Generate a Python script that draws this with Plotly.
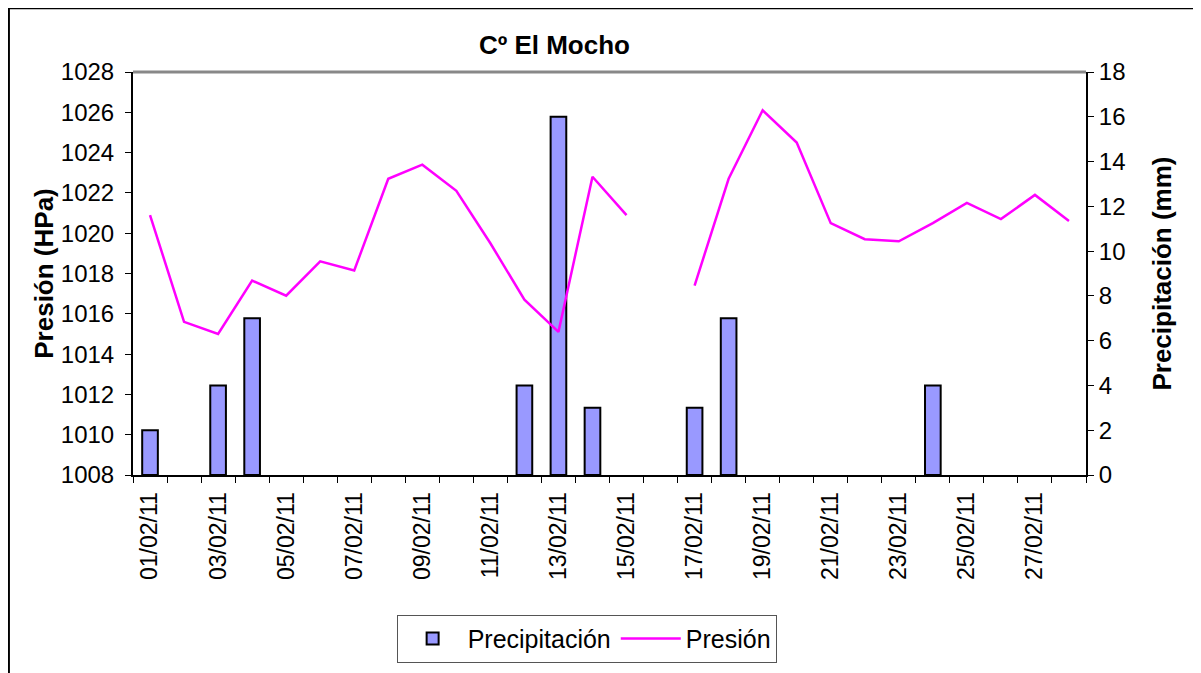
import plotly.graph_objects as go

fechas = [f"{d:02d}/02/11" for d in range(1, 29)]
precipitacion = [2, 0, 4, 7, 0, 0, 0, 0, 0, 0, 0, 4, 16, 3, 0, 0, 3, 7, 0, 0, 0, 0, 0, 4, 0, 0, 0, 0]
presion = [1020.9, 1015.6, 1015.0, 1017.65, 1016.9, 1018.6, 1018.15, 1022.7, 1023.4, 1022.1,
           1019.5, 1016.7, 1015.1, 1022.8, 1020.9, None, 1017.4, 1022.7, 1026.1, 1024.5,
           1020.5, 1019.7, 1019.6, 1020.5, 1021.5, 1020.7, 1021.9, 1020.6]
etiquetas = [f if i % 2 == 0 else "" for i, f in enumerate(fechas)]

font_fam = "Liberation Sans, Arial, sans-serif"

fig = go.Figure()

# bars on primary axis (drawn below), pressure on overlaying axis
fig.add_trace(go.Bar(
    x=fechas, y=[v if v > 0 else None for v in precipitacion], name="Precipitación",
    marker=dict(color="#9999FF", line=dict(color="black", width=2)),
    width=0.46, yaxis="y"
))
fig.add_trace(go.Scatter(
    x=fechas, y=presion, name="Presión", mode="lines",
    line=dict(color="#FF00FF", width=2.5), connectgaps=False, yaxis="y2"
))

fig.update_layout(
    width=1201, height=673,
    margin=dict(l=125, r=123, t=64, b=206),
    paper_bgcolor="white", plot_bgcolor="white",
    font=dict(family=font_fam, size=24, color="black"),
    title=dict(text="<b>Cº El Mocho</b>", x=0.455, xanchor="center", y=0.945, yanchor="middle",
               font=dict(size=26, family=font_fam)),
    xaxis=dict(
        type="category", categoryorder="array", categoryarray=fechas,
        tickmode="array", tickvals=fechas, ticktext=etiquetas,
        tickangle=-90, tickson="boundaries", ticks="outside", ticklen=6,
        tickcolor="black", showline=True, linecolor="black", linewidth=2,
        showgrid=False, tickfont=dict(size=23), range=[-0.5, 27.5], automargin=False,
        ticklabelstandoff=6
    ),
    yaxis=dict(
        side="right", range=[0, 18], dtick=2, ticks="outside", ticklen=6,
        tickcolor="black", showline=True, linecolor="black", linewidth=2,
        showgrid=False, zeroline=False, tickfont=dict(size=24), automargin=False,
        title=dict(text="<b>Precipitación (mm)</b>", font=dict(size=26), standoff=28)
    ),
    yaxis2=dict(
        overlaying="y", side="left", range=[1008, 1028], dtick=2, ticks="outside", ticklen=6,
        tickcolor="black", showline=True, linecolor="black", linewidth=2,
        showgrid=False, zeroline=False, tickfont=dict(size=24), automargin=False,
        ticklabelstandoff=6,
        title=dict(text="<b>Presión (HPa)</b>", font=dict(size=26), standoff=0)
    ),
    legend=dict(
        orientation="h", x=0.476, xanchor="center", y=-0.347, yanchor="top",
        bordercolor="#555555", borderwidth=1, bgcolor="white",
        font=dict(size=25), itemwidth=60
    ),
    showlegend=True,
)

# plot area top border and outer chart frame
fig.add_shape(type="line", xref="paper", yref="paper", x0=0, x1=1, y0=1, y1=1,
              line=dict(color="#888888", width=3))
fig.add_shape(type="rect", xref="paper", yref="paper", x0=-0.1302, x1=1.2, y0=-0.6, y1=1.158,
              line=dict(color="black", width=2), layer="below")

fig.write_html("out.html")
